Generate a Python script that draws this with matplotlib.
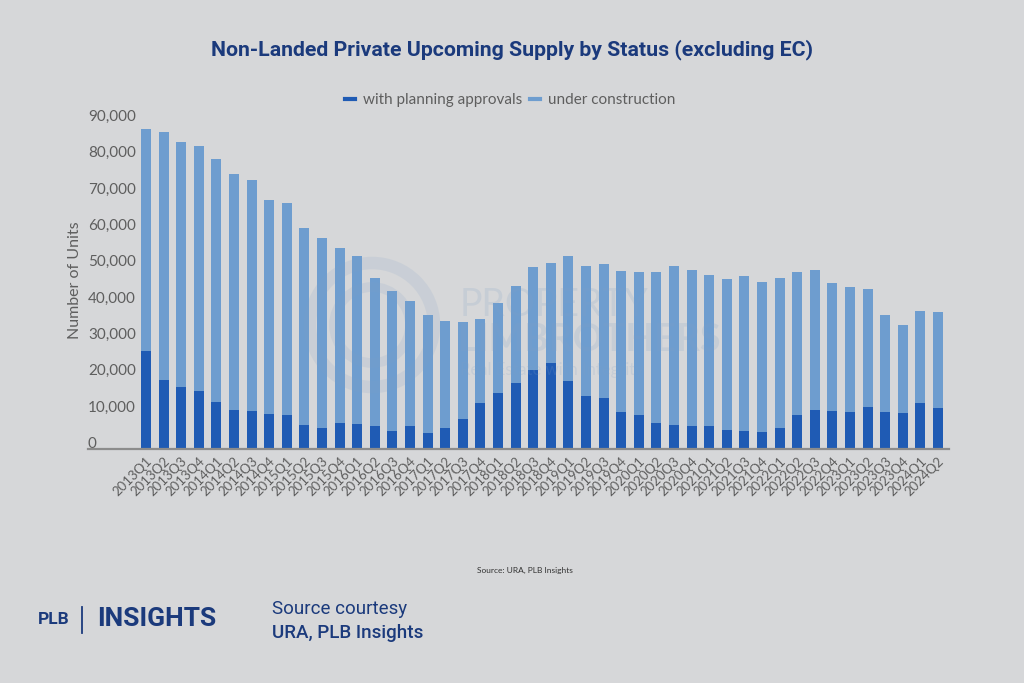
import matplotlib
matplotlib.use('Agg')
from matplotlib import pyplot as plt
from matplotlib.lines import Line2D
from matplotlib.patches import Circle
import matplotlib.transforms as mtransforms

# quarters 2013Q1 .. 2024Q2
quarters = ['%dQ%d' % (y, q) for y in range(2013, 2025) for q in range(1, 5)][:46]

# with planning approvals (units)
approved = [27100, 19100, 17200, 16100, 12900, 10800, 10500, 9700, 9400, 6600,
            5700, 7200, 6900, 6200, 5000, 6400, 4300, 5700, 8200, 12600,
            15400, 18200, 21700, 23700, 18600, 14500, 14000, 10300, 9400, 7200,
            6600, 6400, 6300, 5200, 4900, 4600, 5900, 9300, 10700, 10500,
            10200, 11600, 10300, 10000, 12700, 11300]

# total upcoming supply (units)
total = [88200, 87300, 84600, 83300, 79700, 75600, 74000, 68500, 67800, 60900,
         58000, 55300, 53100, 47000, 43500, 40700, 36800, 35300, 34900, 35900,
         40200, 44900, 50200, 51200, 53000, 50500, 50800, 49000, 48600, 48800,
         50300, 49300, 47900, 46800, 47500, 46100, 47200, 48600, 49300, 45800,
         44700, 44000, 36900, 34100, 38100, 37600]

under_construction = [t - a for t, a in zip(total, approved)]

yticks = [0, 10000, 20000, 30000, 40000, 50000, 60000, 70000, 80000, 90000]

bg = '#d6d7d9'
dark = '#1f5bb4'
light = '#6e9dcf'
navy = '#1b3a7c'
grey = '#5e5e5e'
wm = '#7fa0c8'

W, H = 1024., 683.
fig = plt.figure(figsize=(10.24, 6.83), dpi=100, facecolor=bg)

# plot area in pixels: x 137..949, y 122 (90k) .. 449 (0)
ax = fig.add_axes([137 / W, 1 - 449 / H, (949 - 137) / W, (449 - 122) / H])
ax.set_facecolor('none')

x = list(range(len(quarters)))
ax.bar(x, approved, width=0.57, color=dark, zorder=3)
ax.bar(x, under_construction, bottom=approved, width=0.57, color=light, zorder=3)

ax.set_xlim(-0.51, 45.63)
ax.set_ylim(0, 90000)
for s in ax.spines.values():
    s.set_visible(False)
ax.set_yticks([])
ax.set_xticks(x)
ax.set_xticklabels(quarters, rotation=45, ha='right', va='top',
                   rotation_mode='anchor', fontsize=9.5, color=grey,
                   family='Lato')
ax.tick_params(axis='x', length=0, pad=4)

# baseline runs under the y labels too
fig.add_artist(Line2D([88 / W, 949 / W], [1 - 449 / H, 1 - 449 / H],
                      color='#8c8c8c', lw=1.6))

# y labels sit just above their value
trans = mtransforms.blended_transform_factory(fig.transFigure, ax.transData)
trans = trans + mtransforms.ScaledTranslation(0, -2 / 100., fig.dpi_scale_trans)
for v in yticks:
    ax.text(88 / W, v, '{:,}'.format(v), transform=trans, ha='left',
            va='bottom', fontsize=11, color=grey, family='Lato')

fig.text(75 / W, 1 - 280 / H, 'Number of Units', rotation=90, ha='center',
         va='center', fontsize=11.5, color=grey, family='Lato')

# watermark (pixel based so the rings stay round)
px = fig.dpi_scale_trans
for r, lw in [(0.62, 9), (0.38, 7)]:
    fig.add_artist(Circle((3.72, (H - 325) / 100.), r, transform=px,
                          fill=False, lw=lw, ec=wm, alpha=0.15))
fig.text(460 / W, 1 - 305 / H, 'PROPERTY', fontsize=27, color=wm,
         alpha=0.18, va='center', family='Lato')
fig.text(458 / W, 1 - 340 / H, 'LIMBROTHERS', fontsize=27, color=wm,
         alpha=0.18, va='center', family='Lato', weight='bold')
fig.text(460 / W, 1 - 370 / H, 'Real Estate with Integrity', fontsize=12,
         color=wm, alpha=0.18, va='center', family='Lato')

fig.text(512 / W, 1 - 50 / H,
         'Non-Landed Private Upcoming Supply by Status (excluding EC)',
         ha='center', va='center', fontsize=15.3, weight='bold', color=navy,
         family='Roboto')

handles = [Line2D([], [], color=dark, lw=3), Line2D([], [], color=light, lw=3)]
fig.legend(handles, ['with planning approvals', 'under construction'],
           loc='center', bbox_to_anchor=(510 / W, 1 - 100 / H), ncol=2,
           frameon=False, handlelength=0.7, handletextpad=0.5,
           columnspacing=0.5, prop={'family': 'Lato', 'size': 11},
           labelcolor=grey)

fig.text(525 / W, 1 - 570 / H, 'Source: URA, PLB Insights', ha='center',
         va='center', fontsize=6, color='#333333', family='Lato')

# footer
fig.text(38 / W, 1 - 619 / H, 'PLB', fontsize=12.5, weight='bold', color=navy,
         va='center', family='Roboto')
fig.add_artist(Line2D([82 / W, 82 / W], [1 - 607 / H, 1 - 633 / H], color=navy, lw=1.3))
fig.text(97 / W, 1 - 619 / H, 'INSIGHTS', fontsize=19, weight='bold',
         color=navy, va='center', family='Roboto')
fig.text(272 / W, 1 - 609 / H, 'Source courtesy', fontsize=13.5, color=navy,
         va='center', family='Roboto')
fig.text(272 / W, 1 - 633 / H, 'URA, PLB Insights', fontsize=13.5, color=navy,
         va='center', family='Roboto', weight='medium')

fig.savefig('out.png', dpi=100, facecolor=bg)
